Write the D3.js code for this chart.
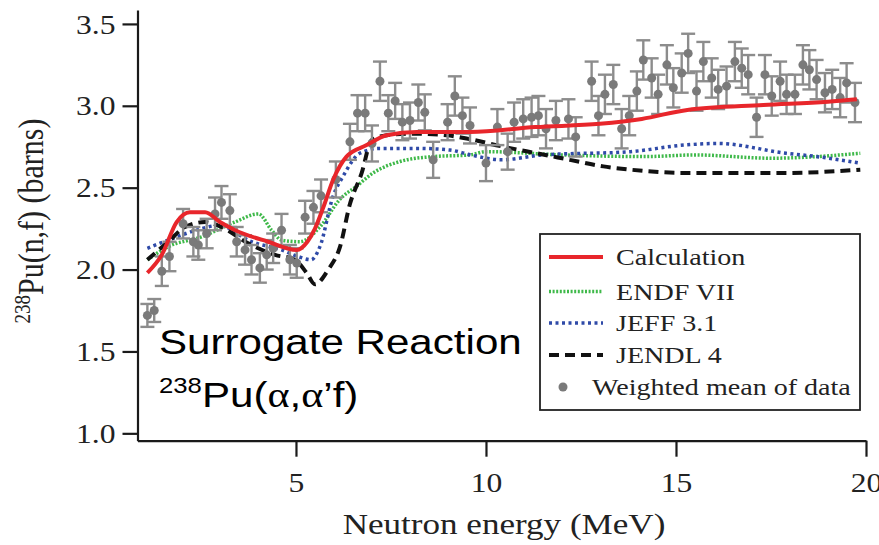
<!DOCTYPE html>
<html>
<head>
<meta charset="utf-8">
<script src="https://cdn.jsdelivr.net/npm/d3@7"></script>
<style>
  html, body { margin: 0; padding: 0; background: #fff; }
  svg { display: block; }
</style>
</head>
<body>
<svg id="chart" width="879" height="545"></svg>
<script>
// Weighted mean of measured 238Pu(n,f) data
const energy = [1.09,1.27,1.47,1.67,2.03,2.30,2.43,2.65,2.87,3.04,3.26,3.44,3.66,3.83,4.05,4.23,4.40,4.62,4.84,5.02,
  5.24,5.46,5.66,6.05,6.42,6.62,6.82,7.00,7.21,7.43,7.61,7.80,8.00,8.22,8.39,8.61,8.99,9.18,9.38,9.58,
  10.00,10.30,10.57,10.74,10.98,11.20,11.38,11.58,11.84,12.17,12.36,12.78,12.96,13.13,13.35,13.57,13.77,13.97,14.14,14.36,
  14.53,14.76,14.93,15.15,15.32,15.54,15.72,15.94,16.11,16.33,16.55,16.73,16.90,17.12,17.34,17.52,17.74,17.91,18.13,18.34,
  18.51,18.70,18.92,19.11,19.32,19.49,19.71];
const meanXS = [1.72,1.75,1.99,2.08,2.28,2.17,2.15,2.22,2.34,2.41,2.36,2.17,2.12,2.06,2.01,2.09,2.13,2.24,2.06,2.04,
  2.32,2.38,2.45,2.55,2.78,2.955,2.955,2.77,3.15,2.955,3.03,2.90,2.91,3.02,2.96,2.67,2.90,3.06,2.94,2.88,
  2.65,2.87,2.72,2.90,2.92,2.93,2.94,2.86,2.91,2.92,2.81,3.15,2.94,3.07,3.13,2.86,2.94,3.09,3.28,3.17,
  3.07,3.25,3.11,3.20,3.32,3.09,3.27,3.17,3.10,3.12,3.27,3.23,3.19,2.93,3.19,3.06,3.15,3.07,3.07,3.25,
  3.22,3.16,3.08,3.10,3.05,3.14,3.02];
const errXS = [0.07,0.07,0.09,0.09,0.09,0.09,0.09,0.09,0.10,0.10,0.10,0.09,0.09,0.09,0.09,0.09,0.09,0.10,0.09,0.09,
  0.10,0.10,0.10,0.11,0.11,0.11,0.11,0.11,0.12,0.11,0.11,0.11,0.11,0.11,0.11,0.11,0.11,0.12,0.11,0.11,
  0.11,0.11,0.11,0.12,0.12,0.12,0.12,0.12,0.12,0.12,0.12,0.12,0.12,0.12,0.12,0.12,0.12,0.12,0.12,0.12,
  0.12,0.12,0.12,0.12,0.12,0.12,0.12,0.12,0.12,0.12,0.12,0.12,0.12,0.12,0.12,0.12,0.12,0.12,0.12,0.12,
  0.12,0.12,0.12,0.12,0.12,0.12,0.12];

// Model calculation and evaluated libraries
const calcE  = [1.09,1.47,1.86,2.21,2.61,3.0,3.4,4.27,5.02,5.3,5.5,5.72,5.98,6.33,6.86,7.39,8.18,9.58,11.3,13.0,14.1,15.3,17.3,19.0,19.76];
const calcXS = [1.98,2.09,2.29,2.35,2.35,2.29,2.24,2.17,2.12,2.17,2.25,2.38,2.55,2.69,2.76,2.82,2.84,2.84,2.87,2.89,2.92,2.975,3.005,3.025,3.04];
const endfE  = [1.09,1.64,2.52,3.39,4.01,4.36,4.62,5.1,5.63,6.16,6.6,7.03,7.74,8.61,9.58,10.0,12.0,14.2,15.5,17.5,19.85];
const endfXS = [2.06,2.14,2.20,2.29,2.34,2.24,2.18,2.17,2.26,2.43,2.51,2.59,2.66,2.69,2.70,2.72,2.70,2.69,2.70,2.68,2.71];
const jeffE  = [1.09,1.64,2.52,2.96,3.83,4.62,5.05,5.4,5.63,5.98,6.24,6.68,7.21,8.18,9.05,9.6,10.4,11.5,13.8,15.2,16.1,17.9,18.7,19.85];
const jeffXS = [2.13,2.18,2.25,2.27,2.17,2.12,2.08,2.06,2.14,2.45,2.57,2.71,2.74,2.74,2.73,2.70,2.67,2.70,2.72,2.76,2.77,2.71,2.69,2.65];
const jendlE  = [1.09,1.64,2.08,2.61,3.04,3.74,4.45,4.97,5.28,5.5,5.85,6.16,6.42,6.73,6.99,7.39,8.0,8.97,9.49,10.46,11.33,12.21,13.09,13.8,15.3,17.9,19.85];
const jendlXS = [2.06,2.17,2.26,2.29,2.26,2.16,2.09,2.06,1.98,1.91,2.0,2.14,2.40,2.59,2.79,2.82,2.83,2.82,2.80,2.75,2.71,2.67,2.63,2.61,2.59,2.59,2.61];

const xTicks = [5, 10, 15, 20];
const yTicks = [1.0, 1.5, 2.0, 2.5, 3.0, 3.5];
const legendLabels = ["Calculation", "ENDF VII", "JEFF 3.1", "JENDL 4", "Weighted mean of data"];

const SX = 1.17; // horizontal glyph stretch of the figure lettering
const serif = "'Liberation Serif', 'Times New Roman', serif";
const sans = "'Liberation Sans', Arial, sans-serif";

const svg = d3.select("#chart");
const x = d3.scaleLinear().domain([0.83, 20]).range([137.5, 866]);
const y = d3.scaleLinear().domain([0.955, 3.585]).range([440.7, 10]);

const axisColor = "#1a1a1a";

// Axes
const gx = svg.append("g").attr("transform", `translate(0,${y.range()[0]})`)
  .call(d3.axisBottom(x).tickValues(xTicks).tickSize(16).tickSizeOuter(0).tickPadding(0).tickFormat(d3.format("d")));
const gy = svg.append("g").attr("transform", `translate(${x.range()[0]},0)`)
  .call(d3.axisLeft(y).tickValues(yTicks).tickSize(15).tickSizeOuter(0).tickFormat(d3.format(".1f")));

[gx, gy].forEach(g => {
  g.select(".domain").attr("stroke", axisColor).attr("stroke-width", 2.2);
  g.selectAll(".tick line").attr("stroke", axisColor).attr("stroke-width", 2.2);
  g.selectAll(".tick text").attr("fill", "#222").style("font-family", serif).style("font-size", "27px");
});
gx.selectAll(".tick text").attr("y", 51.5).attr("dy", "0").attr("transform", `scale(${SX},1)`);
gy.selectAll(".tick text").attr("x", -22 / SX).attr("dy", "0.34em").attr("transform", `scale(${SX},1)`);

// Error bars and mean points
const pts = energy.map((e, i) => ({ e, v: meanXS[i], s: errXS[i] }));
const ptG = svg.append("g");
const greyBar = "#8c8c8c";
ptG.selectAll("line.eb").data(pts).join("line")
  .attr("x1", d => x(d.e)).attr("x2", d => x(d.e))
  .attr("y1", d => y(d.v - d.s)).attr("y2", d => y(d.v + d.s))
  .attr("stroke", greyBar).attr("stroke-width", 2.4);
ptG.selectAll("line.capT").data(pts).join("line")
  .attr("x1", d => x(d.e) - 7).attr("x2", d => x(d.e) + 7)
  .attr("y1", d => y(d.v + d.s)).attr("y2", d => y(d.v + d.s))
  .attr("stroke", greyBar).attr("stroke-width", 2.4);
ptG.selectAll("line.capB").data(pts).join("line")
  .attr("x1", d => x(d.e) - 7).attr("x2", d => x(d.e) + 7)
  .attr("y1", d => y(d.v - d.s)).attr("y2", d => y(d.v - d.s))
  .attr("stroke", greyBar).attr("stroke-width", 2.4);

// Curves
const line = d3.line().x(d => x(d[0])).y(d => y(d[1])).curve(d3.curveMonotoneX);
const zipper = (a, b) => a.map((v, i) => [v, b[i]]);
const series = [
  { e: endfE, v: endfXS, color: "#3fb94a", width: 3.5, dash: "2,1.6" },
  { e: jeffE, v: jeffXS, color: "#2f4aa8", width: 3.5, dash: "3,3.5" },
  { e: jendlE, v: jendlXS, color: "#111111", width: 4, dash: "10,6" }
];
series.forEach(s => {
  svg.append("path").datum(zipper(s.e, s.v)).attr("d", line)
    .attr("fill", "none").attr("stroke", s.color).attr("stroke-width", s.width)
    .attr("stroke-dasharray", s.dash);
});

ptG.raise();
ptG.selectAll("circle").data(pts).join("circle")
  .attr("cx", d => x(d.e)).attr("cy", d => y(d.v)).attr("r", 4.5)
  .attr("fill", "#7a7a7a");

svg.append("path").datum(zipper(calcE, calcXS)).attr("d", line)
  .attr("fill", "none").attr("stroke", "#e8262b").attr("stroke-width", 4);

// Axis titles
svg.append("text").attr("transform", `translate(504,534) scale(${SX},1)`)
  .attr("text-anchor", "middle").style("font-family", serif).style("font-size", "30px").attr("fill", "#222")
  .text("Neutron energy (MeV)");

const yl = svg.append("text").attr("transform", `translate(43,221) scale(${SX},1) rotate(-90)`)
  .attr("text-anchor", "middle").style("font-family", serif).style("font-size", "30px").attr("fill", "#222");
yl.append("tspan").attr("font-size", "19px").attr("dy", "-11").text("238");
yl.append("tspan").attr("dy", "11").text("Pu(n,f) (barns)");

// Reaction annotation
svg.append("text").attr("transform", `translate(159,354) scale(${SX},1)`)
  .style("font-family", sans).style("font-size", "36px").attr("fill", "#000")
  .text("Surrogate Reaction");
const rx = svg.append("text").attr("transform", `translate(159,407) scale(${SX},1)`)
  .style("font-family", sans).style("font-size", "36px").attr("fill", "#000");
rx.append("tspan").attr("font-size", "22px").attr("dy", "-14").text("238");
rx.append("tspan").attr("dy", "14").text("Pu(");
rx.append("tspan").style("font-family", serif).text("α");
rx.append("tspan").text(",");
rx.append("tspan").style("font-family", serif).text("α");
rx.append("tspan").text("’f)");

// Legend
const lg = svg.append("g");
lg.append("rect").attr("x", 540).attr("y", 234).attr("width", 320).attr("height", 176)
  .attr("fill", "#fff").attr("stroke", "#222").attr("stroke-width", 1.8);
const rowY = [257, 291.5, 323, 355, 387];
const legendStyles = [
  { color: "#e8262b", width: 4, dash: null },
  { color: "#3fb94a", width: 3.5, dash: "2,1.6" },
  { color: "#2f4aa8", width: 3.5, dash: "3,3.5" },
  { color: "#111111", width: 4, dash: "10,6" }
];
legendStyles.forEach((s, i) => {
  lg.append("line").attr("x1", 549).attr("x2", 603).attr("y1", rowY[i]).attr("y2", rowY[i])
    .attr("stroke", s.color).attr("stroke-width", s.width).attr("stroke-dasharray", s.dash);
  lg.append("text").attr("transform", `translate(616,${rowY[i] + 8}) scale(${SX},1)`)
    .style("font-family", serif).style("font-size", "24px").attr("fill", "#222").text(legendLabels[i]);
});
lg.append("circle").attr("cx", 563).attr("cy", rowY[4]).attr("r", 4.5).attr("fill", "#7a7a7a");
lg.append("text").attr("transform", `translate(592,${rowY[4] + 8}) scale(${SX},1)`)
  .style("font-family", serif).style("font-size", "24px").attr("fill", "#222").text(legendLabels[4]);
</script>
</body>
</html>
